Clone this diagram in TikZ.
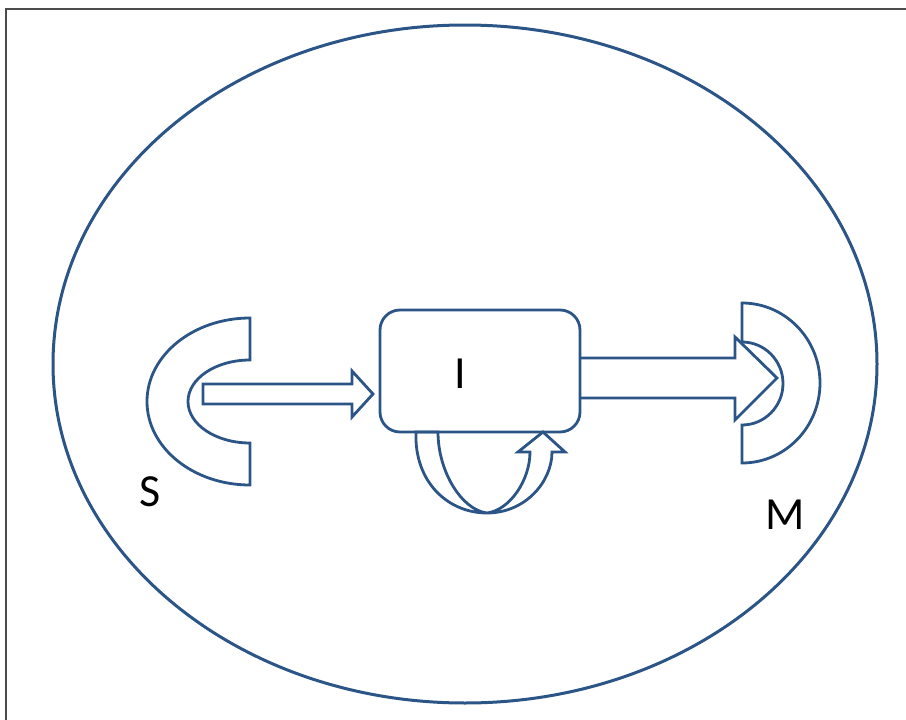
\documentclass[tikz,border=0pt]{standalone}
\usepackage{fontspec}
\setmainfont{Carlito}
\definecolor{diagblue}{RGB}{44,85,135}

\begin{document}
\begin{tikzpicture}[x=1pt,y=-1pt,line width=2.8pt,draw=diagblue,
    bigtext/.style={text=black,font=\fontsize{46}{46}\selectfont,inner sep=0pt}]
  \useasboundingbox (0,0) rectangle (906,720);
  \draw[gray!60!black,line width=2pt] (6,720) -- (6,9) -- (906,9);
  \draw[line width=3pt] (465,364) ellipse [x radius=412,y radius=339];
  % source
  \draw (250,318) arc[start angle=270,end angle=90,x radius=103,y radius=83.5]
    -- (250,443) arc[start angle=90,end angle=270,x radius=62,y radius=41.5] -- cycle;
  \node[bigtext] (srclabel) at (150,492) {S};
  % arrow into the box
  \draw (203,384) -- (352,384) -- (352,371) -- (373,394) -- (352,417) -- (352,404) -- (203,404) -- cycle;
  \node[draw,rounded corners=20pt,minimum width=200pt,minimum height=122pt] (box) at (480,371) {};
  \node[bigtext] (lblI) at (460,374) {I};
  % loop under the box
  \draw (416,432) .. controls (414,482) and (448,513) .. (487,513)
    .. controls (525,513) and (552,482) .. (552,452) -- (565,452) -- (543,432) -- (518,452) -- (530,452)
    .. controls (530,480) and (510,510) .. (487,513)
    .. controls (462,510) and (438,472) .. (438,432) -- cycle;
  % arrow out of the box
  \draw (580,358) -- (735,358) -- (735,337) -- (777,378) -- (735,420) -- (735,398) -- (580,398);
  % meter
  \draw (742,303) arc[start angle=270,end angle=450,x radius=78,y radius=80]
    -- (742,425) arc[start angle=90,end angle=-90,x radius=41,y radius=41.5] -- cycle;
  \node[bigtext] (meterlabel) at (785,515) {M};
\end{tikzpicture}
\end{document}
